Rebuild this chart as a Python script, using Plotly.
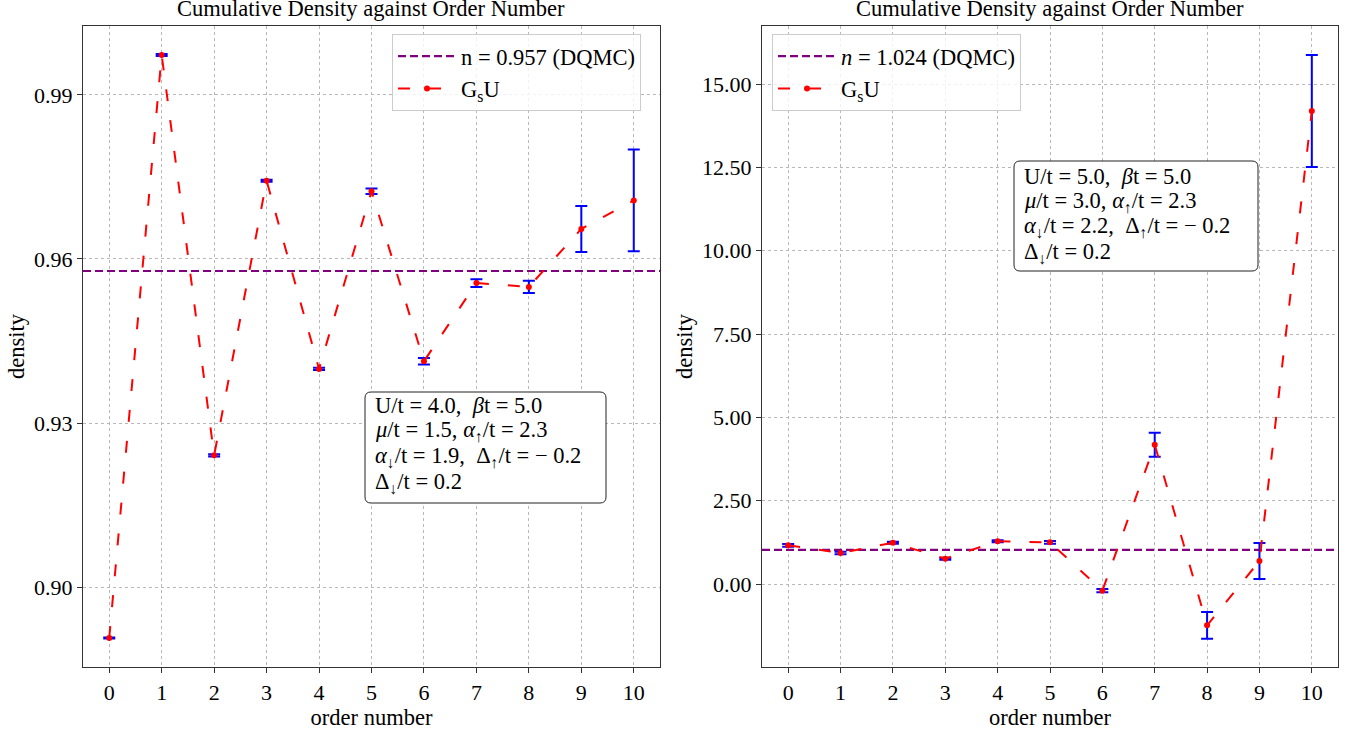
import plotly.graph_objects as go

# ---- data ----
order = [0, 1, 2, 3, 4, 5, 6, 7, 8, 9, 10]

left_density = [0.8907, 0.9973, 0.9241, 0.9743, 0.9399, 0.9724, 0.9413, 0.9556, 0.9549, 0.9655, 0.9707]
left_err = [0.0001, 0.0002, 0.0002, 0.0002, 0.0002, 0.0005, 0.0006, 0.0007, 0.0011, 0.0042, 0.0093]
left_dqmc = 0.9578
left_dqmc_label = "n = 0.957 (DQMC)"

right_density = [1.16, 0.93, 1.24, 0.76, 1.28, 1.25, -0.20, 4.18, -1.24, 0.69, 14.19]
right_err = [0.04, 0.04, 0.03, 0.03, 0.03, 0.04, 0.05, 0.36, 0.40, 0.54, 1.68]
right_dqmc = 1.024
right_dqmc_label = "<i>n</i> = 1.024 (DQMC)"

series_label = "G<sub>s</sub>U"
title_text = "Cumulative Density against Order Number"

left_params = ["U/t = 4.0,  <i>β</i>t = 5.0",
               "<i>μ</i>/t = 1.5, <i>α</i><sub>↑</sub>/t = 2.3",
               "<i>α</i><sub>↓</sub>/t = 1.9,  Δ<sub>↑</sub>/t = − 0.2",
               "Δ<sub>↓</sub>/t = 0.2"]
right_params = ["U/t = 5.0,  <i>β</i>t = 5.0",
                "<i>μ</i>/t = 3.0, <i>α</i><sub>↑</sub>/t = 2.3",
                "<i>α</i><sub>↓</sub>/t = 2.2,  Δ<sub>↑</sub>/t = − 0.2",
                "Δ<sub>↓</sub>/t = 0.2"]

W, H = 1361, 732
FONT = "Liberation Serif, Times New Roman, serif"
FS = 22.5
TFS = 22

def px_x(p):
    return p / W

def px_y(p):
    return 1 - p / H

fig = go.Figure()

panels = [
    dict(xa="x", ya="y", dens=left_density, err=left_err, dqmc=left_dqmc, lab=left_dqmc_label,
         legend="legend"),
    dict(xa="x2", ya="y2", dens=right_density, err=right_err, dqmc=right_dqmc, lab=right_dqmc_label,
         legend="legend2"),
]

for p in panels:
    fig.add_trace(go.Scatter(
        x=[-0.5, 10.5], y=[p["dqmc"], p["dqmc"]], mode="lines",
        line=dict(color="#800080", width=2.2, dash="8px,4px"),
        name=p["lab"], xaxis=p["xa"], yaxis=p["ya"], legend=p["legend"]))
    fig.add_trace(go.Scatter(
        x=order, y=p["dens"], mode="lines+markers",
        line=dict(color="#ff0000", width=2, dash="12px,19px"),
        marker=dict(color="#ff0000", size=6),
        error_y=dict(type="data", array=p["err"], visible=True, color="#0000ff", thickness=2, width=6),
        name=series_label, xaxis=p["xa"], yaxis=p["ya"], legend=p["legend"]))

axis_common = dict(
    showline=True, linecolor="#333333", linewidth=1.2, mirror=True,
    ticks="outside", ticklen=5, tickcolor="#333333", tickwidth=1,
    showgrid=True, gridcolor="#b8b8b8", gridwidth=0.8, griddash="dot",
    zeroline=False,
    tickfont=dict(family=FONT, size=TFS, color="black"),
)

xdom1 = [px_x(83), px_x(660)]
xdom2 = [px_x(762), px_x(1338)]
ydom = [px_y(667), px_y(26)]

fig.update_layout(
    width=W, height=H,
    margin=dict(l=0, r=0, t=0, b=0),
    paper_bgcolor="white", plot_bgcolor="white",
    font=dict(family=FONT, size=FS, color="black"),
    showlegend=True,
    xaxis=dict(domain=xdom1, range=[-0.5, 10.5], tickvals=order, anchor="y",
               title=dict(text="order number", font=dict(family=FONT, size=FS), standoff=1), **axis_common),
    yaxis=dict(domain=ydom, range=[0.8854, 1.0026], tickvals=[0.90, 0.93, 0.96, 0.99], tickformat=".2f",
               anchor="x", title=dict(text="density", font=dict(family=FONT, size=FS), standoff=3), **axis_common),
    xaxis2=dict(domain=xdom2, range=[-0.5, 10.5], tickvals=order, anchor="y2",
                title=dict(text="order number", font=dict(family=FONT, size=FS), standoff=1), **axis_common),
    yaxis2=dict(domain=ydom, range=[-2.49, 16.74], tick0=0, dtick=2.5, tickformat=".2f",
                anchor="x2", title=dict(text="density", font=dict(family=FONT, size=FS), standoff=3), **axis_common),
    legend=dict(x=px_x(392), y=px_y(34), xanchor="left", yanchor="top",
                bgcolor="rgba(255,255,255,0.8)", bordercolor="#cccccc", borderwidth=1,
                font=dict(family=FONT, size=FS), itemwidth=58, tracegroupgap=2),
    legend2=dict(x=px_x(772), y=px_y(34), xanchor="left", yanchor="top",
                 bgcolor="rgba(255,255,255,0.8)", bordercolor="#cccccc", borderwidth=1,
                 font=dict(family=FONT, size=FS), itemwidth=58, tracegroupgap=2),
)

annotations = []
for xd in (xdom1, xdom2):
    annotations.append(dict(
        text=title_text, x=(xd[0] + xd[1]) / 2, y=px_y(8), xref="paper", yref="paper",
        xanchor="center", yanchor="middle", showarrow=False,
        font=dict(family=FONT, size=FS, color="black")))


def rounded_box(x0, y0, x1, y1, r=6):
    X = lambda v: px_x(v)
    Y = lambda v: px_y(v)
    return (f"M{X(x0 + r)},{Y(y0)} L{X(x1 - r)},{Y(y0)} Q{X(x1)},{Y(y0)} {X(x1)},{Y(y0 + r)} "
            f"L{X(x1)},{Y(y1 - r)} Q{X(x1)},{Y(y1)} {X(x1 - r)},{Y(y1)} "
            f"L{X(x0 + r)},{Y(y1)} Q{X(x0)},{Y(y1)} {X(x0)},{Y(y1 - r)} "
            f"L{X(x0)},{Y(y0 + r)} Q{X(x0)},{Y(y0)} {X(x0 + r)},{Y(y0)} Z")

shapes = []
boxes = [
    (left_params, (365, 392, 606, 503), 373, [406, 431.5, 457, 482.5]),
    (right_params, (1014, 161, 1258, 271), 1022, [176, 201.5, 227, 252.5]),
]
for lines, (bx0, by0, bx1, by1), tx, ys in boxes:
    shapes.append(dict(type="path", path=rounded_box(bx0, by0, bx1, by1), xref="paper", yref="paper",
                       line=dict(color="#222222", width=1), fillcolor="white", layer="above"))
    for line, ly in zip(lines, ys):
        annotations.append(dict(
            text=line, x=px_x(tx), y=px_y(ly), xref="paper", yref="paper",
            xanchor="left", yanchor="middle", showarrow=False, align="left",
            font=dict(family=FONT, size=22.5, color="black")))

fig.update_layout(annotations=annotations, shapes=shapes)

fig.write_html("out.html", config={"displayModeBar": False},
               post_script="document.body.style.margin='0px';")
